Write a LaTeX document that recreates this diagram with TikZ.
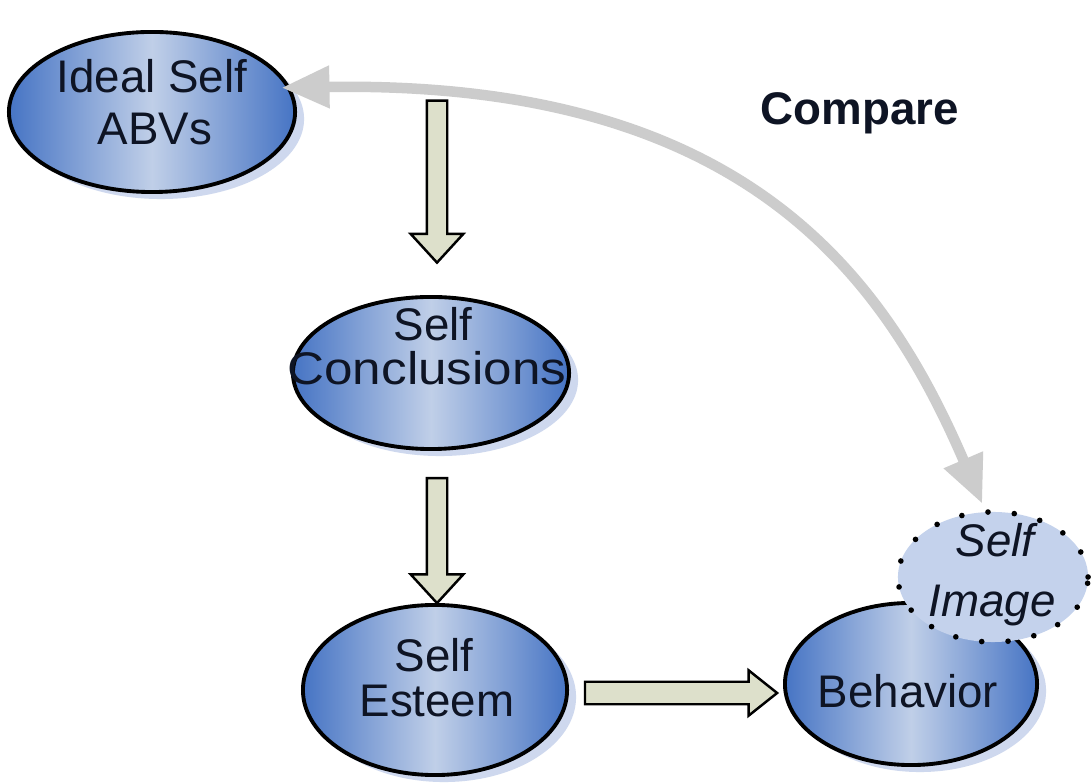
\documentclass[tikz,border=0pt]{standalone}
\usepackage{fontspec}
\setmainfont{Liberation Sans}
\usetikzlibrary{shapes.geometric,shapes.arrows,arrows.meta,shadows,calc}
\definecolor{edgeblue}{RGB}{70,116,196}
\definecolor{midblue}{RGB}{192,207,232}
\definecolor{shadowblue}{RGB}{206,216,238}
\definecolor{imgfill}{RGB}{196,210,236}
\definecolor{arrowfill}{RGB}{221,224,203}
\definecolor{curvegray}{RGB}{204,204,204}
\definecolor{txtcol}{RGB}{14,20,36}
\begin{document}
\begin{tikzpicture}[x=0.01cm,y=-0.01cm,
  bubble/.style={ellipse, draw=black, line width=1.1pt, left color=edgeblue, right color=edgeblue, middle color=midblue, inner sep=0pt,
    general shadow={fill=shadowblue, shadow xshift=0.09cm, shadow yshift=-0.07cm}},
  lbl/.style={font=\fontsize{13}{15}\selectfont, text=txtcol, inner sep=0pt, anchor=base},
  blockarrow/.style={single arrow, draw=black, line width=0.7pt, fill=arrowfill, inner sep=0pt, text depth=0pt, single arrow head indent=0pt},
  comparearrow/.style={draw=curvegray, line width=0.105cm, {Triangle[length=0.48cm,width=0.40cm]}-{Triangle[length=0.48cm,width=0.40cm]}}
]
\useasboundingbox (0,0) rectangle (1091,783);
\fill[white] (0,0) rectangle (1091,783);

% block arrows
\node[blockarrow, rotate=-90, minimum height=1.62cm, text height=0.18cm, single arrow head extend=0.16cm, single arrow tip angle=85] (down1) at (437,176) {};
\node[blockarrow, rotate=-90, minimum height=1.25cm, text height=0.18cm, single arrow head extend=0.16cm, single arrow tip angle=85] (down2) at (437,535) {};
\node[blockarrow, minimum height=1.92cm, text height=0.20cm, single arrow head extend=0.115cm, single arrow tip angle=77] (right1) at (674,693) {};

% ellipses
\node[bubble, minimum width=2.86cm, minimum height=1.60cm] (ideal) at (152,112) {};
\node[bubble, minimum width=2.76cm, minimum height=1.52cm] (concl) at (431,373) {};
\node[bubble, minimum width=2.64cm, minimum height=1.70cm] (esteem) at (435,690) {};
\node[bubble, minimum width=2.52cm, minimum height=1.62cm] (behav) at (911,684) {};
\node[ellipse, fill=imgfill, draw=black, line width=1.6pt, dash pattern=on 0pt off 7.5pt, line cap=round,
  minimum width=1.90cm, minimum height=1.30cm, inner sep=0pt] (simage) at (993,577) {};

% compare arrow
\draw[comparearrow, shorten <=0.06cm, shorten >=-0.09cm] (simage.97) .. controls (885,278) and (747,80) .. (ideal.10);

% texts
\node[lbl] (t1) at (152,93) {Ideal Self};
\node[lbl] (t2) at (155,145) {ABVs};
\node[lbl] (t3) at (433,341) {Self};
\node[lbl] (t4) at (427,385) {\scalebox{1.12}[1]{Conclusions}};
\node[lbl] (t5) at (434,672) {Self};
\node[lbl] (t6) at (437,717) {Esteem};
\node[lbl] (t7) at (908,708) {Behavior};
\node[lbl] (t8) at (995,557) {\itshape Self};
\node[lbl] (t9) at (992,617) {\itshape Image};
\node[lbl, font=\fontsize{13}{15}\selectfont\bfseries] (cmp) at (860,125) {Compare};
\end{tikzpicture}
\end{document}
